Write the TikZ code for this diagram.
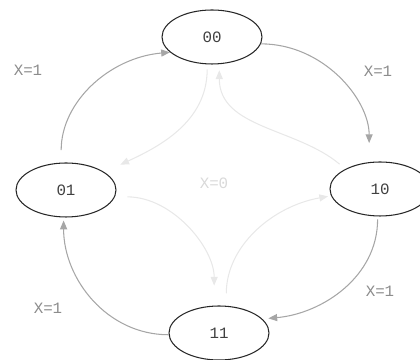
\documentclass[tikz,border=0pt]{standalone}
\usepackage{fontspec}
\setmainfont{Liberation Mono}
\usetikzlibrary{arrows.meta, shapes.geometric}
\tikzset{
  state/.style={
    ellipse,
    draw=black!85,
    line width=0.6pt,
    minimum width=2cm,
    minimum height=1.08cm,
    inner sep=0pt,
    font=\small,
    text=black!75
  },
  outer edge/.style={
    -{Triangle[length=5pt, width=4pt]},
    line width=0.6pt,
    color=black!35
  },
  inner edge/.style={
    -{Triangle[length=5pt, width=4pt]},
    line width=0.6pt,
    color=black!9
  },
  cond label/.style={
    font=\small,
    color=black!45
  }
}
\begin{document}
\begin{tikzpicture}
    % 8.4cm x 7.2cm, 1px = 0.02cm
    \useasboundingbox (0,0) rectangle (8.4,7.2);

    % states
    \node[state] (s00) at (4.24, 6.46) {00};
    \node[state] (s01) at (1.32, 3.40) {01};
    \node[state] (s10) at (7.60, 3.42) {10};
    \node[state] (s11) at (4.38, 0.54) {11};

    % outer ring, X=1
    \draw[outer edge, shorten <=0.25cm] (s01.100) to[out=90, in=185] (s00.200);
    \draw[outer edge, shorten >=0.38cm] (s00.-8) to[out=0, in=90] (s10.112);
    \draw[outer edge, shorten <=0.06cm, shorten >=0.12cm] (s10.-95) to[out=-90, in=5] (s11.18);
    \draw[outer edge, shorten >=0.06cm] (s11.182) to[out=180, in=-90] (s01.-95);

    % inner ring, X=0
    \draw[inner edge, shorten <=0.1cm, shorten >=0.35cm] (s00.-100) to[out=-90, in=25] (s01.25);
    \draw[inner edge, shorten <=0.25cm, shorten >=0.4cm] (s01.-8) to[out=0, in=90] (s11.100);
    \draw[inner edge, shorten <=0.25cm, shorten >=0.06cm] (s11.75) to[out=90, in=190] (s10.188);
    \draw[inner edge, shorten <=0.15cm, shorten >=0.12cm] (s10.150) to[out=140, in=-90] (s00.-75);

    % labels
    \node[cond label] (l1) at (0.56, 5.80) {X=1};
    \node[cond label] (l2) at (7.56, 5.78) {X=1};
    \node[cond label] (l3) at (7.60, 1.38) {X=1};
    \node[cond label] (l4) at (0.96, 1.04) {X=1};
    \node[cond label, color=black!15] (l0) at (4.28, 3.54) {X=0};
\end{tikzpicture}
\end{document}
